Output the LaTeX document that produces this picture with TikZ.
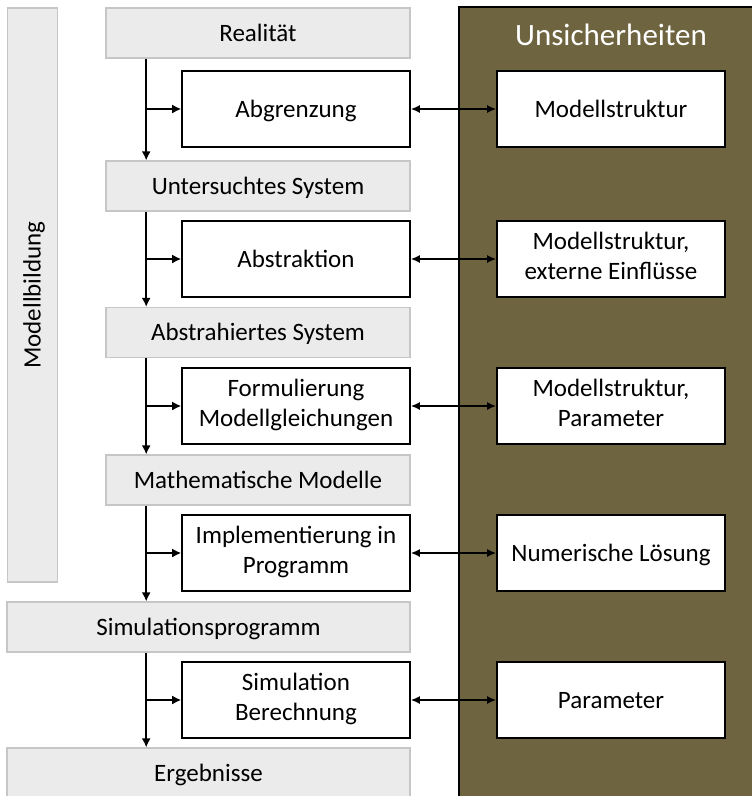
\documentclass[tikz,border=0pt]{standalone}
\usepackage{fontspec}
\setmainfont{Carlito}
\usetikzlibrary{arrows.meta, positioning}
\definecolor{cbrown}{HTML}{6E6540}
\definecolor{clight}{HTML}{EBEBEB}
\definecolor{cline}{HTML}{C6C6C6}
\newcommand{\lstrut}{\rule[-7pt]{0pt}{30pt}}
\tikzset{
  every picture/.style={line width=1.5pt},
  stage/.style={draw=cline, fill=clight, line width=1.2pt, inner sep=0pt, minimum height=50pt, align=center},
  step box/.style={draw=black, fill=white, line width=1.6pt, inner sep=0pt, minimum width=228pt, minimum height=76pt, align=center},
  arrow/.style={-{Latex[length=9pt, width=9pt]}, draw=black, line width=1.6pt},
  both/.style={{Latex[length=9pt, width=8pt]}-{Latex[length=9pt, width=8pt]}, draw=black, line width=1.6pt},
}

\begin{document}
\begin{tikzpicture}[x=1pt, y=-1pt,
    every node/.append style={font=\fontsize{25}{30}\selectfont,
      execute at begin node=\lstrut, execute at end node=\lstrut},
  ]
  \useasboundingbox (0,0) rectangle (752,796);

  % ---- uncertainty panel
  \fill[cbrown, draw=black, line width=1.4pt] (459,7) rectangle (760,805);
  \node[text=white, anchor=base, font=\fontsize{31}{37}\selectfont] (title) at (611,45) {Unsicherheiten};

  % ---- stages
  \node[stage, minimum width=574pt, rotate=90] (mb) at (32.5,295) {Modellbildung};
  \node[stage, minimum width=304pt] (real) at (258,33)    {Realit\"at};
  \node[stage, minimum width=304pt] (unt)  at (258,186)   {Untersuchtes System};
  \node[stage, minimum width=304pt] (abs)  at (258,332.5) {Abstrahiertes System};
  \node[stage, minimum width=304pt] (mat)  at (258,480)   {Mathematische Modelle};
  \node[stage, minimum width=403pt] (sim)  at (208.5,627) {Simulationsprogramm};
  \node[stage, minimum width=403pt] (erg)  at (208.5,773) {Ergebnisse};

  % ---- steps
  \node[step box] (abg)  at (296,109) {Abgrenzung};
  \node[step box] (abk)  at (296,259) {Abstraktion};
  \node[step box] (form) at (296,406) {Formulierung\\Modellgleichungen};
  \node[step box] (impl) at (296,553) {Implementierung in\\Programm};
  \node[step box] (simb) at (296,700) {Simulation\\Berechnung};

  % ---- uncertainties
  \node[step box] (u1) at (611,109) {Modellstruktur};
  \node[step box] (u2) at (611,259) {Modellstruktur,\\externe Einfl\"usse};
  \node[step box] (u3) at (611,406) {Modellstruktur,\\Parameter};
  \node[step box] (u4) at (611,553) {Numerische L\"osung};
  \node[step box] (u5) at (611,700) {Parameter};

  % flow
  \foreach \a/\b/\c in {real/abg/unt, unt/abk/abs, abs/form/mat, mat/impl/sim, sim/simb/erg} {
    \draw[arrow] ([xshift=-35pt]\b.west |- \a.south) -- ([xshift=-35pt]\b.west |- \c.north);
    \draw[arrow] ([xshift=-35pt]\b.west) -- (\b.west);
  }

  % uncertainty links
  \foreach \b/\u in {abg/u1, abk/u2, form/u3, impl/u4, simb/u5} \draw[both] (\b.east) -- (\u.west);
\end{tikzpicture}
\end{document}
